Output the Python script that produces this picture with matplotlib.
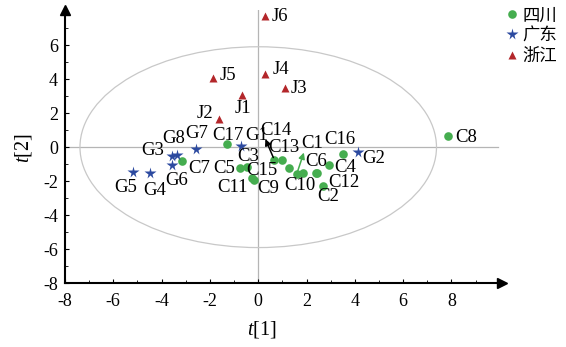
import matplotlib
matplotlib.use("Agg")
import matplotlib.pyplot as plt
from matplotlib.patches import Ellipse
from matplotlib.ticker import MultipleLocator, FuncFormatter

plt.rcParams['font.family'] = ['Liberation Serif', 'Noto Sans CJK SC']
plt.rcParams['mathtext.fontset'] = 'custom'
plt.rcParams['mathtext.it'] = 'Liberation Serif:italic'
plt.rcParams['mathtext.rm'] = 'Liberation Serif'

# ---- data (score plot t[1] vs t[2]) ----
sc_names = ["C1", "C2", "C3", "C4", "C5", "C6", "C7", "C8", "C9", "C10",
            "C11", "C12", "C13", "C14", "C15", "C16", "C17"]
sc_t1 = [1.60, 2.68, -0.46, 2.95, -0.75, 2.40, -3.15, 7.84, -0.17, 1.84,
         -0.26, 2.44, 0.99, 0.67, 1.26, 3.49, -1.29]
sc_t2 = [-1.55, -2.27, -1.16, -1.06, -1.20, -1.49, -0.82, 0.65, -1.94, -1.49,
         -1.82, -1.52, -0.73, -0.76, -1.20, -0.40, 0.17]

gd_names = ["G1", "G2", "G3", "G4", "G5", "G6", "G7", "G8"]
gd_t1 = [-0.71, 4.15, -3.57, -4.48, -5.19, -3.57, -2.57, -3.36]
gd_t2 = [0.06, -0.30, -0.50, -1.53, -1.47, -1.07, -0.12, -0.47]

zj_names = ["J1", "J2", "J3", "J4", "J5", "J6"]
zj_t1 = [-0.66, -1.62, 1.12, 0.29, -1.87, 0.29]
zj_t2 = [3.06, 1.65, 3.50, 4.30, 4.06, 7.70]

groups = ["四川", "广东", "浙江"]
ellipse_axes = (7.38, 5.90)  # Hotelling T2 half-axes

x_ticks = [-8, -6, -4, -2, 0, 2, 4, 6, 8]
y_ticks = [-8, -6, -4, -2, 0, 2, 4, 6]

# ---- label placement (pixel offsets) ----
lab = {
    "C1": (15, 30, 'center'), "C2": (5, -11, 'center'), "C3": (1, 10, 'center'),
    "C4": (5, -2, 'left'), "C5": (-5, -1, 'right'), "C6": (0, 11, 'center'),
    "C7": (6, -7, 'left'), "C8": (8, -1, 'left'), "C9": (3, -8, 'left'),
    "C10": (-3, -13, 'center'), "C11": (-4, -9, 'right'), "C12": (11, -9, 'left'),
    "C13": (2, 12, 'center'), "C14": (1, 30, 'center'), "C15": (-11, -3, 'right'),
    "C16": (-3, 14, 'center'), "C17": (1, 9, 'center'),
    "G1": (4, 11, 'left'), "G2": (4, -6, 'left'), "G3": (-8, 5, 'right'),
    "G4": (5, -17, 'center'), "G5": (-7, -15, 'center'), "G6": (5, -15, 'center'),
    "G7": (1, 16, 'center'), "G8": (-3, 17, 'center'),
    "J1": (1, -13, 'center'), "J2": (-6, 6, 'right'), "J3": (5, -1, 'left'),
    "J4": (7, 4, 'left'), "J5": (7, 3, 'left'), "J6": (6, 0, 'left'),
}
# leader arrows: (tail offset, head offset) in pixels from the point
leaders = {"C1": ((1, 2), (7, 21), '#45ad4f'), "C14": ((-2, 2), (-9, 21), 'black')}

green, blue, red = '#45ad4f', '#2c4aa0', '#b3262a'

fig = plt.figure(figsize=(5.66, 3.47), dpi=100)
ax = fig.add_axes([65 / 566, 1 - 283.3 / 347, (501.7 - 65) / 566, (283.3 - 10) / 347])

ax.set_xlim(-8, 10.08)
ax.set_ylim(-8, 8.06)

ax.axhline(0, color='#b5b5b5', lw=0.9, xmax=(9.93 + 8) / 18.08, zorder=1)
ax.axvline(0, color='#b5b5b5', lw=0.9, zorder=1)
ax.add_patch(Ellipse((0, 0), 2 * ellipse_axes[0], 2 * ellipse_axes[1],
                     fill=False, ec='#c8c8c8', lw=0.9, zorder=1))

ax.plot(sc_t1, sc_t2, 'o', color=green, ms=6.2, mec='none', zorder=3, label=groups[0])
ax.plot(gd_t1, gd_t2, '*', color=blue, ms=8.5, mec='none', zorder=3, label=groups[1])
ax.plot(zj_t1, zj_t2, '^', color=red, ms=5.8, mec='none', zorder=3, label=groups[2])

for names, xs, ys in [(sc_names, sc_t1, sc_t2), (gd_names, gd_t1, gd_t2), (zj_names, zj_t1, zj_t2)]:
    for n, x, y in zip(names, xs, ys):
        dx, dy, ha = lab[n]
        ax.annotate(n, (x, y), xytext=(dx, dy), textcoords='offset pixels',
                    ha=ha, va='center', fontsize=13.5, zorder=4)
        if n in leaders:
            (tx, ty), (hx, hy), col = leaders[n]
            ax.annotate('', xy=(x, y), xytext=(hx, hy), textcoords='offset pixels',
                        arrowprops=dict(arrowstyle='<|-', color=col, lw=1.1,
                                        shrinkA=0, shrinkB=2, mutation_scale=9),
                        zorder=5)

for s in ['top', 'right']:
    ax.spines[s].set_visible(False)
for s in ['left', 'bottom']:
    ax.spines[s].set_linewidth(1.5)
ax.plot([1], [0], '>k', ms=7, transform=ax.transAxes, clip_on=False)
ax.plot([0], [1], '^k', ms=7, transform=ax.transAxes, clip_on=False)

ax.set_xticks(x_ticks)
ax.set_yticks(y_ticks)
ax.xaxis.set_minor_locator(MultipleLocator(1))
ax.yaxis.set_minor_locator(MultipleLocator(1))
fmt = FuncFormatter(lambda v, p: f"{int(v)}".replace('\u2212', '-'))
ax.xaxis.set_major_formatter(fmt)
ax.yaxis.set_major_formatter(fmt)
ax.tick_params(which='major', direction='in', length=3, width=0.8, labelsize=13)
ax.tick_params(axis='x', which='major', pad=7)
ax.tick_params(axis='y', which='major', pad=5)
ax.tick_params(which='minor', direction='in', length=2, width=0.6)

ax.set_xlabel('$t$[1]', fontsize=14.5, va='center')
ax.set_ylabel('$t$[2]', fontsize=14.5, va='center')
ax.xaxis.set_label_coords((262 - 65) / 436.7, (283.3 - 330) / 273.3)
ax.yaxis.set_label_coords((24 - 65) / 436.7, (283.3 - 148) / 273.3)

leg = fig.legend(loc='upper left', bbox_to_anchor=(502 / 566, 1 - 3 / 347), frameon=False,
                 prop={'family': ['Noto Sans CJK SC'], 'size': 12.5},
                 handlelength=0.8, handletextpad=0.2, labelspacing=0.12,
                 borderaxespad=0.1, borderpad=0.1)

fig.savefig('out.png', dpi=100)
